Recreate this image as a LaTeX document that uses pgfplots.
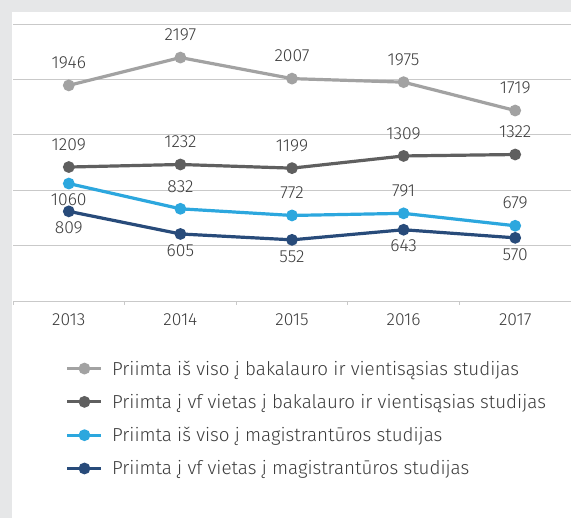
\documentclass[border=0pt]{standalone}
\usepackage{pgfplots}
\pgfplotsset{compat=1.18}
\usepackage{fontspec}
\setmainfont{Fira Sans}[UprightFont={* Light}]
\definecolor{frame}{HTML}{E6E7E8}
\definecolor{gridc}{HTML}{C9C9C9}
\definecolor{txt}{HTML}{3C3C3C}
\definecolor{sA}{HTML}{A2A2A2}
\definecolor{sB}{HTML}{5F5F5F}
\definecolor{sC}{HTML}{2CA7DE}
\definecolor{sD}{HTML}{284B7A}
\begin{document}
\begin{tikzpicture}
\useasboundingbox (0,0) rectangle (571pt,518pt);
\fill[frame] (0,0) rectangle (571pt,518pt);
\fill[white] (12pt,0pt) rectangle (571pt,506pt);
\begin{axis}[
  at={(13pt,217pt)},anchor=south west,
  scale only axis,width=558pt,height=277pt,
  xmin=-0.5,xmax=4.5,ymin=0,ymax=2500,
  axis lines*=left,
  x axis line style={gridc,line width=0.9pt},
  y axis line style={draw=none},
  xtick={0,...,4},xticklabels={2013,2014,2015,2016,2017},
  minor xtick={-0.5,0.5,1.5,2.5,3.5},
  major x tick style={draw=none},
  minor x tick style={gridc,line width=0.9pt},
  minor tick length=4pt,tick align=outside,
  ytick={500,1000,1500,2000,2500},yticklabels={},
  major y tick style={draw=none},
  ymajorgrids,major grid style={gridc,line width=0.9pt},
  ticklabel style={font=\fontsize{17.5}{21}\selectfont,text=txt},
  /pgf/number format/assume math mode=true,
  /pgf/number format/1000 sep={},
  xticklabel style={yshift=-5pt},
  clip=false,
  every axis plot/.append style={line width=3.2pt,mark=*,mark size=4.2pt},
  nodes near coords,
  every node near coord/.append style={font=\fontsize{17.5}{21}\selectfont,text=txt,inner sep=0pt,anchor=south,yshift=15pt},
  legend style={at={(axis description cs:0.089,-0.2)},anchor=north west,draw=none,fill=none,
    font=\fontsize{18.8}{22}\selectfont,text=txt,row sep=13.5pt,
    /tikz/every odd column/.append style={column sep=7pt}},
  legend cell align=left,
  legend image code/.code={\draw[#1,mark repeat=2,mark phase=2] plot coordinates {(0pt,0pt)(17pt,0pt)(34pt,0pt)};},
]
\addplot[color=sA] coordinates {(0,1946)(1,2197)(2,2007)(3,1975)(4,1719)};
\addplot[color=sB] coordinates {(0,1209)(1,1232)(2,1199)(3,1309)(4,1322)};
\addplot[color=sC,coordinate style/.condition={x==0}{yshift=-39pt}] coordinates {(0,1060)(1,832)(2,772)(3,791)(4,679)};
\addplot[color=sD,every node near coord/.append style={yshift=-39pt}] coordinates {(0,809)(1,605)(2,552)(3,643)(4,570)};
\legend{Priimta iš viso į bakalauro ir vientisąsias studijas,
Priimta į vf vietas į bakalauro ir vientisąsias studijas,
Priimta iš viso į magistrantūros studijas,
Priimta į vf vietas į magistrantūros studijas}
\end{axis}
\end{tikzpicture}
\end{document}
